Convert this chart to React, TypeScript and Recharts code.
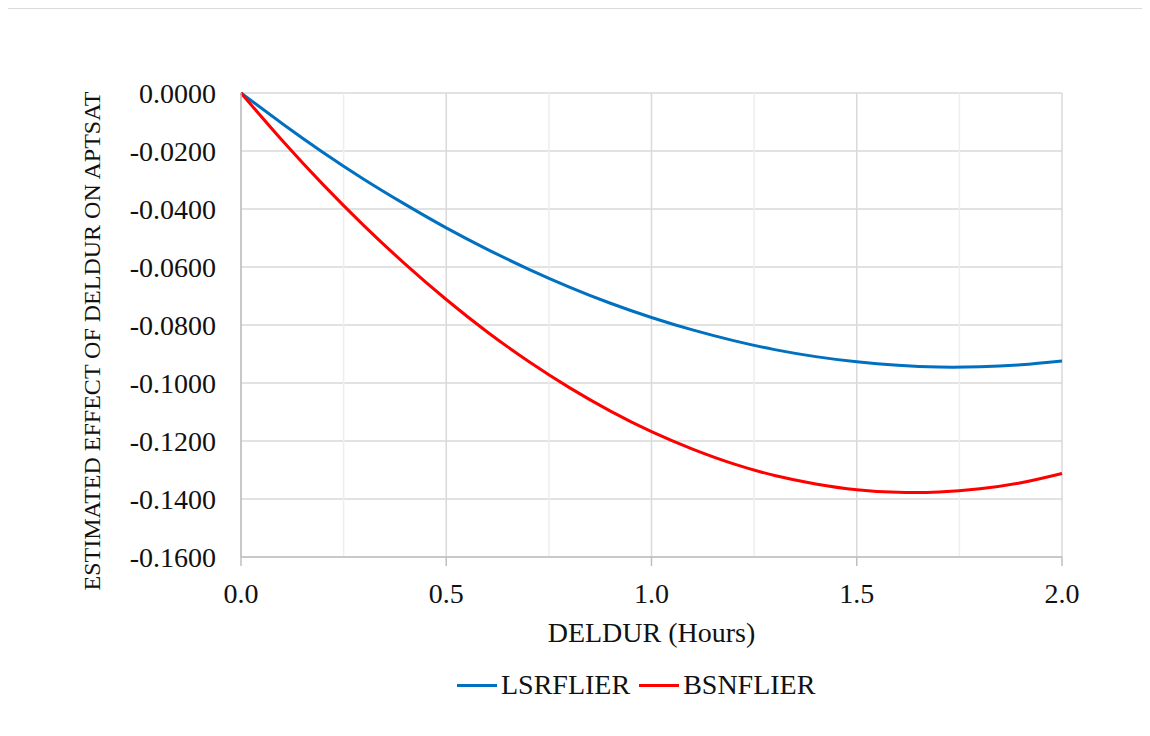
import {
  LineChart,
  Line,
  XAxis,
  YAxis,
  CartesianGrid,
  Legend,
  ReferenceLine,
} from "recharts";

const hours = [
  0, 0.1, 0.2, 0.3, 0.4, 0.5, 0.6, 0.7, 0.8, 0.9, 1.0, 1.1, 1.2, 1.3, 1.4,
  1.5, 1.6, 1.7, 1.8, 1.9, 2.0,
];
const lsrflier = [
  0, -0.0105, -0.0205, -0.0298, -0.0384, -0.0465, -0.0539, -0.0607, -0.0669,
  -0.0725, -0.0774, -0.0817, -0.0854, -0.0885, -0.0909, -0.0927, -0.0939,
  -0.0945, -0.0944, -0.0937, -0.0924,
];
const bsnflier = [
  0, -0.0163, -0.0316, -0.0458, -0.059, -0.0712, -0.0824, -0.0925, -0.1016,
  -0.1097, -0.1168, -0.1228, -0.1279, -0.1319, -0.1348, -0.1368, -0.1377,
  -0.1376, -0.1365, -0.1344, -0.1312,
];
const xTicks = [0, 0.5, 1.0, 1.5, 2.0];
const xMinorTicks = [0.25, 0.75, 1.25, 1.75];
const yTicks = [
  0, -0.02, -0.04, -0.06, -0.08, -0.1, -0.12, -0.14, -0.16,
];

const data = hours.map((h, i) => ({
  h,
  LSRFLIER: lsrflier[i],
  BSNFLIER: bsnflier[i],
}));

const font = "'Liberation Serif', 'Times New Roman', serif";
const tickStyle = { fontFamily: font, fontSize: 28, fill: "#111" };

const legendItems = [
  { name: "LSRFLIER", color: "#0070C0" },
  { name: "BSNFLIER", color: "#FF0000" },
];

function LegendBox() {
  return (
    <div
      style={{
        display: "flex",
        alignItems: "center",
        paddingLeft: 449,
        height: 32,
        lineHeight: "32px",
        fontFamily: font,
        fontSize: 28,
        color: "#111",
      }}
    >
      {legendItems.map((it) => (
        <div
          key={it.name}
          style={{ display: "flex", alignItems: "center", marginRight: 9 }}
        >
          <span
            style={{
              display: "inline-block",
              width: 40,
              height: 3,
              background: it.color,
              marginRight: 4,
            }}
          />
          <span>{it.name}</span>
        </div>
      ))}
    </div>
  );
}

function YTitle() {
  const x = 84;
  const y = 332;
  return (
    <text
      x={x}
      y={y}
      transform={`rotate(-90, ${x}, ${y})`}
      textAnchor="middle"
      dominantBaseline="central"
      fontFamily={font}
      fontSize={24}
      fill="#111"
    >
      ESTIMATED EFFECT OF DELDUR ON APTSAT
    </text>
  );
}

export default function App() {
  return (
    <div
      style={{
        marginLeft: -2,
        marginTop: -1,
        marginBottom: -40,
        width: 1142,
        height: 728,
        borderTop: "2px solid #dadada",
        borderLeft: "2px solid #dadada",
        background: "#fff",
      }}
    >
      <LineChart
        width={1134}
        height={728}
        data={data}
        margin={{ top: 84, right: 80, left: 0, bottom: 0 }}
      >
        <CartesianGrid stroke="#d9d9d9" strokeWidth={1.5} verticalValues={xTicks} horizontalValues={yTicks} />
        {xMinorTicks.map((v) => (
          <ReferenceLine key={v} x={v} stroke="#eeeeee" strokeWidth={1.5} />
        ))}
        <XAxis
          dataKey="h"
          type="number"
          domain={[0, 2]}
          ticks={xTicks}
          tickFormatter={(v: number) => v.toFixed(1)}
          stroke="#bfbfbf"
          strokeWidth={1.5}
          tickSize={9}
          tickMargin={17}
          tick={tickStyle}
          height={148}
          label={{
            value: "DELDUR (Hours)",
            position: "insideTop",
            offset: 65,
            style: tickStyle,
          }}
        />
        <YAxis
          type="number"
          domain={[-0.16, 0]}
          ticks={yTicks}
          tickFormatter={(v: number) => v.toFixed(4)}
          stroke="#bfbfbf"
          strokeWidth={1.5}
          tickLine={false}
          tickSize={0}
          tickMargin={25}
          tick={tickStyle}
          width={233}
          label={{ content: () => <YTitle /> }}
        />
        <Legend
          verticalAlign="bottom"
          wrapperStyle={{ top: 660, bottom: "auto", left: 0 }}
          content={() => <LegendBox />}
        />
        <Line
          type="natural"
          dataKey="LSRFLIER"
          stroke="#0070C0"
          strokeWidth={3}
          dot={false}
          isAnimationActive={false}
        />
        <Line
          type="natural"
          dataKey="BSNFLIER"
          stroke="#FF0000"
          strokeWidth={3}
          dot={false}
          isAnimationActive={false}
        />
      </LineChart>
    </div>
  );
}
